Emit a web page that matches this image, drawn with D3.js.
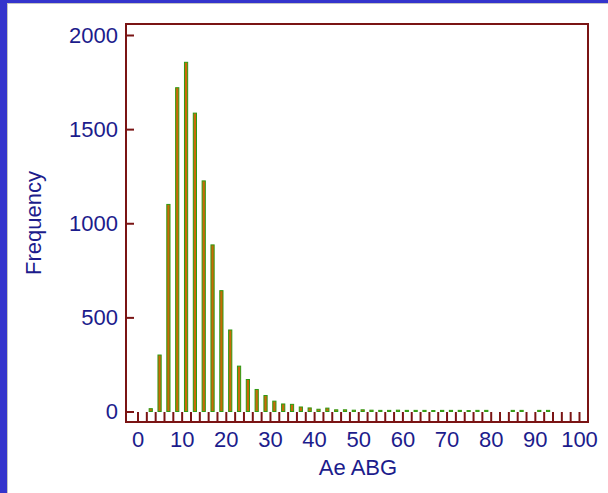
<!DOCTYPE html>
<html>
<head>
<meta charset="utf-8">
<script src="https://cdn.jsdelivr.net/npm/d3@7"></script>
<style>
  body { margin: 0; background: #fff; }
  svg { display: block; }
  .lbl { font-family: "Liberation Sans", Arial, sans-serif; fill: #1c1c8c; }
</style>
</head>
<body>
<script>
// Centros de los intervalos (ancho 2) y frecuencias
var binCenters = d3.range(1, 100, 2);
var freq = [0, 15, 300, 1100, 1720, 1855, 1585, 1225, 885, 642,
            433, 241, 170, 117, 85, 55, 40, 38, 24, 19,
            12, 18, 9, 9, 7, 9, 7, 6, 6, 7,
            6, 6, 6, 5, 6, 6, 6, 5, 6, 6,
            0, 0, 6, 6, 0, 6, 6, 0, 0, 0];
var yTicks = [0, 500, 1000, 1500, 2000];
var xTicks = [0, 10, 20, 30, 40, 50, 60, 70, 80, 90, 100];
var minorTicks = d3.range(0, 101, 2);

var W = 608, H = 493;
var frame = {left: 126, top: 24, right: 588, bottom: 422};

var x = d3.scaleLinear().domain([0, 100]).range([137.5, 579]);
var y = d3.scaleLinear().domain([0, 2000]).range([411.5, 35]);

var svg = d3.select("body").append("svg")
    .attr("width", W)
    .attr("height", H);

// Borde azul de la diapositiva
svg.append("rect").attr("x", 0).attr("y", 0).attr("width", W).attr("height", 3).attr("fill", "#3434cc");
svg.append("rect").attr("x", 0).attr("y", 0).attr("width", 7).attr("height", H).attr("fill", "#3434cc");
svg.append("rect").attr("x", 7).attr("y", 3).attr("width", W - 7).attr("height", 1).attr("fill", "#c4c4c4");
svg.append("rect").attr("x", 7).attr("y", 3).attr("width", 1).attr("height", H - 3).attr("fill", "#c4c4c4");

// Barras
svg.append("g").selectAll("rect")
    .data(freq.map(function(v, i) { return {c: binCenters[i], v: v}; }).filter(function(d) { return d.v > 0; }))
    .enter().append("rect")
    .attr("x", function(d) { return x(d.c) - 1.6; })
    .attr("y", function(d) { return y(d.v); })
    .attr("width", 3.2)
    .attr("height", function(d) { return y(0) - y(d.v); })
    .attr("fill", "#c86a08")
    .attr("stroke", "#2f9a12")
    .attr("stroke-width", 1);

// Eje Y (marcas hacia dentro)
var yAxis = d3.axisLeft(y).tickValues(yTicks).tickFormat(d3.format("d"))
    .tickSizeInner(-8).tickSizeOuter(0).tickPadding(8);
var gy = svg.append("g").attr("transform", "translate(" + frame.left + ",0)").call(yAxis);
gy.select(".domain").remove();
gy.selectAll("line").attr("stroke", "#7a1414").attr("stroke-width", 2);
gy.selectAll("text").attr("class", "lbl").style("font-size", "22px").attr("fill", "#1c1c8c");

// Eje X: marcas cada 2 unidades hacia arriba
var xMinor = d3.axisBottom(x).tickValues(minorTicks).tickFormat("").tickSizeInner(-10).tickSizeOuter(0);
var gxm = svg.append("g").attr("transform", "translate(0," + frame.bottom + ")").call(xMinor);
gxm.select(".domain").remove();
gxm.selectAll("line").attr("stroke", "#7a1414").attr("stroke-width", 2);

var xAxis = d3.axisBottom(x).tickValues(xTicks).tickSize(0).tickPadding(9);
var gx = svg.append("g").attr("transform", "translate(0," + frame.bottom + ")").call(xAxis);
gx.select(".domain").remove();
gx.selectAll("text").attr("class", "lbl").style("font-size", "22px").attr("fill", "#1c1c8c");

// Marco del grafico
svg.append("rect")
    .attr("x", frame.left).attr("y", frame.top)
    .attr("width", frame.right - frame.left).attr("height", frame.bottom - frame.top)
    .attr("fill", "none").attr("stroke", "#7a1414").attr("stroke-width", 2);

// Titulos
svg.append("text").attr("class", "lbl")
    .attr("x", 358).attr("y", 475)
    .attr("text-anchor", "middle").style("font-size", "22px")
    .text("Ae ABG");

svg.append("text").attr("class", "lbl")
    .attr("transform", "translate(41,223) rotate(-90)")
    .attr("text-anchor", "middle").style("font-size", "22px")
    .text("Frequency");
</script>
</body>
</html>
